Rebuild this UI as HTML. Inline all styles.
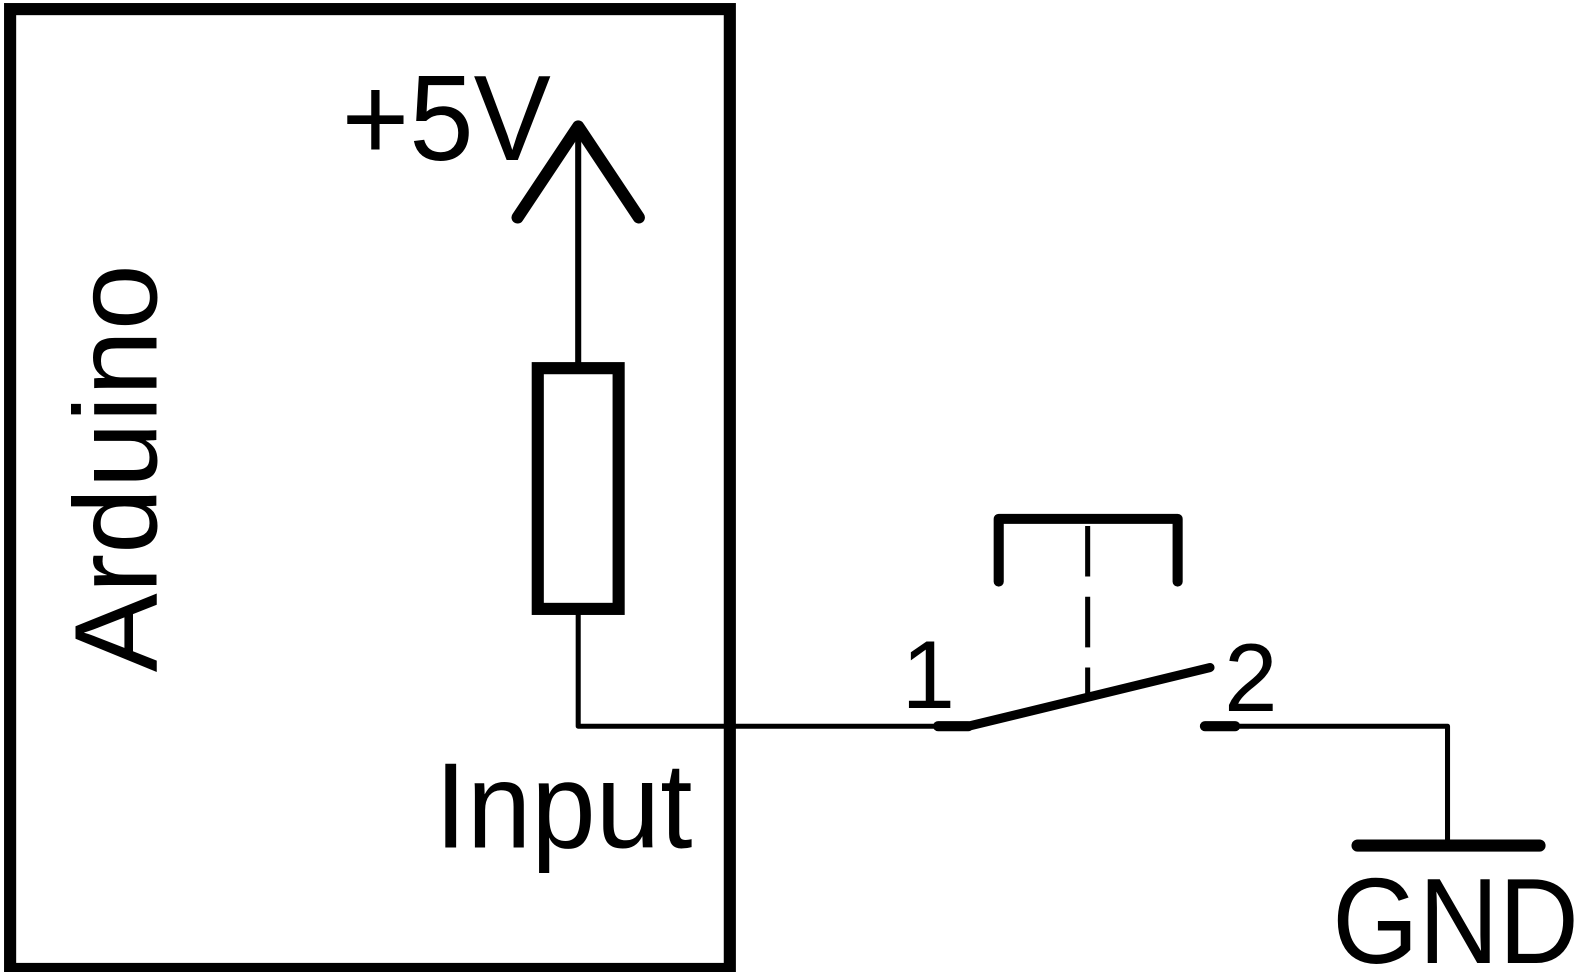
<!DOCTYPE html>
<html><head><meta charset="utf-8"><style>html,body{margin:0;padding:0;background:#fff;}svg{display:block}</style></head>
<body>
<svg width="1585" height="972" viewBox="0 0 1568 961" preserveAspectRatio="none" xmlns="http://www.w3.org/2000/svg">
<rect x="0" y="0" width="1568" height="961" fill="#fff"/>
<g fill="none" stroke="#000" stroke-linecap="round" stroke-linejoin="round">
<rect x="10" y="9" width="712" height="949" stroke-width="12" stroke-linecap="butt" stroke-linejoin="miter"/>
<line x1="572" y1="128" x2="572" y2="364" stroke-width="6"/>
<polyline points="512,215 572,125 632,215" stroke-width="12"/>
<rect x="532" y="364" width="80" height="238" stroke-width="12" stroke-linejoin="miter"/>
<polyline points="572,602 572,718 930,718" stroke-width="5" stroke-linecap="butt"/>
<line x1="928" y1="718" x2="958" y2="718" stroke-width="10"/>
<line x1="958" y1="718" x2="1197" y2="660" stroke-width="9"/>
<line x1="1076" y1="520" x2="1076" y2="688" stroke-width="5" stroke-dasharray="50,20" stroke-linecap="butt"/>
<polyline points="988,575 988,513 1165,513 1165,575" stroke-width="10"/>
<line x1="1192" y1="718" x2="1222" y2="718" stroke-width="10"/>
<polyline points="1222,718 1432,718 1432,836" stroke-width="5" stroke-linecap="butt"/>
<line x1="1343" y1="836" x2="1523" y2="836" stroke-width="12"/>
</g>
<g font-family="Liberation Sans, sans-serif" fill="#000">
<text x="338" y="158" font-size="120" textLength="207" lengthAdjust="spacingAndGlyphs">+5V</text>
<text x="430" y="838" font-size="120" textLength="255" lengthAdjust="spacingAndGlyphs">Input</text>
<text x="1318" y="952" font-size="120" textLength="244" lengthAdjust="spacingAndGlyphs">GND</text>
<text x="892" y="700" font-size="95">1</text>
<text x="1211" y="703" font-size="95">2</text>
<text transform="translate(155,463) rotate(-90)" text-anchor="middle" font-size="117">Arduino</text>
</g>
</svg>
</body></html>
